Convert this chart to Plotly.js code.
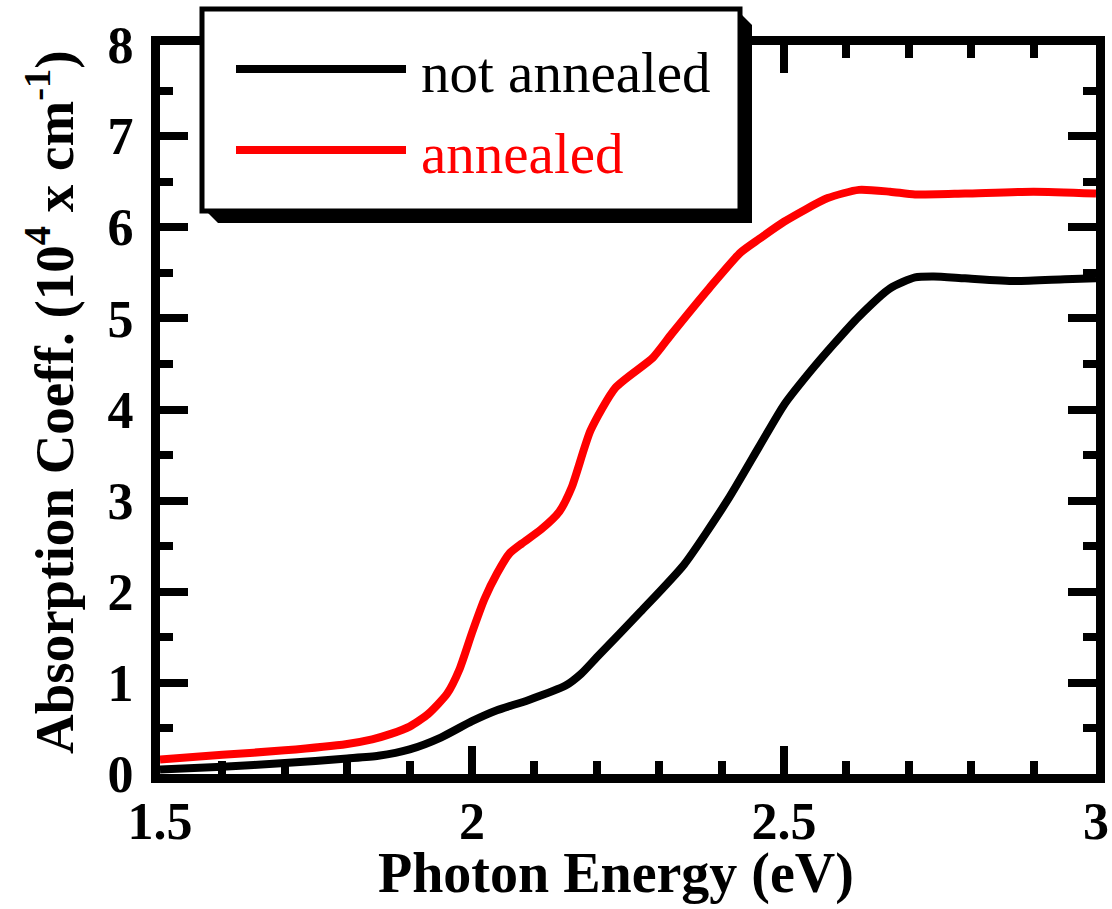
<!DOCTYPE html>
<html>
<head>
<meta charset="utf-8">
<script src="https://cdn.plot.ly/plotly-3.0.1.min.js"></script>
<style>html,body{margin:0;padding:0;background:#fff;}#chart{width:1112px;height:909px;}</style>
</head>
<body>
<div id="chart"></div>
<script>
// Photon energy (eV) and absorption coefficient (10^4 cm^-1)
const energyNotAnnealed = [1.50,1.60,1.70,1.80,1.85,1.90,1.95,2.00,2.04,2.09,2.15,2.175,2.20,2.27,2.34,2.41,2.46,2.50,2.54,2.58,2.62,2.67,2.71,2.74,2.79,2.87,2.95,3.00];
const alphaNotAnnealed  = [0.05,0.08,0.12,0.17,0.20,0.27,0.40,0.58,0.70,0.81,0.97,1.10,1.28,1.78,2.30,3.01,3.59,4.05,4.40,4.72,5.02,5.33,5.45,5.46,5.44,5.41,5.43,5.44];

const energyAnnealed = [1.50,1.60,1.70,1.80,1.84,1.87,1.90,1.93,1.96,1.98,2.00,2.02,2.04,2.06,2.08,2.11,2.14,2.16,2.19,2.23,2.29,2.32,2.38,2.43,2.46,2.50,2.57,2.62,2.67,2.71,2.79,2.90,3.00];
const alphaAnnealed  = [0.16,0.21,0.26,0.33,0.38,0.44,0.52,0.66,0.88,1.15,1.55,1.92,2.20,2.42,2.53,2.68,2.88,3.15,3.77,4.24,4.57,4.83,5.33,5.72,5.87,6.06,6.32,6.41,6.39,6.36,6.37,6.39,6.37];

const seriesNames = ["not annealed", "annealed"];
const seriesColors = ["#000000", "#ff0000"];
const xTitle = "Photon Energy (eV)";
const yTitle = "Absorption Coeff. (10<sup>4</sup> x cm<sup>-1</sup>)";

// layout geometry (pixels)
const W = 1112, H = 909;
const L = 160, R = 16, T = 45, B = 135;
const plotW = W - L - R, plotH = H - T - B;
const px = x => (x - L) / plotW;          // pixel -> paper x
const py = y => (H - B - y) / plotH;      // pixel -> paper y

const serif = "Liberation Serif, Times New Roman, serif";

const traces = [
  {x: energyNotAnnealed, y: alphaNotAnnealed, name: seriesNames[0], mode: "lines",
   line: {color: seriesColors[0], width: 8, shape: "spline", smoothing: 0.6}, showlegend: false},
  {x: energyAnnealed, y: alphaAnnealed, name: seriesNames[1], mode: "lines",
   line: {color: seriesColors[1], width: 8, shape: "spline", smoothing: 0.6}, showlegend: false}
];

// custom legend box with drop shadow
const bx0 = 202, bx1 = 740, by0 = 9, by1 = 211, sh = 12;
const shapes = [
  {type: "path", xref: "paper", yref: "paper", layer: "above",
   path: `M ${px(bx1)},${py(by0+4)} L ${px(bx1+sh)},${py(by0+4+sh)} L ${px(bx1+sh)},${py(by1+sh)} L ${px(bx0+4+sh)},${py(by1+sh)} L ${px(bx0+4)},${py(by1)} Z`,
   fillcolor: "#000", line: {width: 0}},
  {type: "rect", xref: "paper", yref: "paper", layer: "above",
   x0: px(bx0), x1: px(bx1), y0: py(by0), y1: py(by1),
   fillcolor: "#fff", line: {color: "#000", width: 5}},
  {type: "line", xref: "paper", yref: "paper", layer: "above",
   x0: px(236), x1: px(406), y0: py(69), y1: py(69), line: {color: seriesColors[0], width: 8}},
  {type: "line", xref: "paper", yref: "paper", layer: "above",
   x0: px(236), x1: px(406), y0: py(150), y1: py(150), line: {color: seriesColors[1], width: 8}}
];

const annotations = [
  {text: seriesNames[0], xref: "paper", yref: "paper", x: px(419), y: py(72), xanchor: "left", yanchor: "middle",
   showarrow: false, font: {family: serif, size: 57, color: seriesColors[0]}},
  {text: seriesNames[1], xref: "paper", yref: "paper", x: px(419), y: py(153), xanchor: "left", yanchor: "middle",
   showarrow: false, font: {family: serif, size: 57, color: seriesColors[1]}},
  {text: xTitle, xref: "paper", yref: "paper", x: px(616), y: py(873), xanchor: "center", yanchor: "middle",
   showarrow: false, font: {family: serif, size: 56, color: "#000", weight: "bold"}},
  {text: yTitle, xref: "paper", yref: "paper", x: px(50), y: py(402), xanchor: "center", yanchor: "middle",
   textangle: -90, showarrow: false, font: {family: serif, size: 55, color: "#000", weight: "bold"}}
];

const axisCommon = {
  showline: true, linecolor: "#000", linewidth: 9, mirror: "ticks",
  ticks: "inside", ticklen: 28, tickwidth: 8, tickcolor: "#000",
  showgrid: false, zeroline: false, fixedrange: true,
  tickfont: {family: serif, size: 52, color: "#000", weight: "bold"}
};

const layout = {
  width: W, height: H,
  margin: {l: L, r: R, t: T, b: B, pad: 0},
  paper_bgcolor: "#fff", plot_bgcolor: "#fff",
  showlegend: false,
  xaxis: Object.assign({}, axisCommon, {
    range: [1.5, 3], tickmode: "array", tickvals: [1.5, 2, 2.5, 3], ticktext: ["1.5", "2", "2.5", "3"],
    ticklabelstandoff: -6,
    minor: {dtick: 0.1, tick0: 1.5, ticks: "inside", ticklen: 13, tickwidth: 8, tickcolor: "#000", showgrid: false}
  }),
  yaxis: Object.assign({}, axisCommon, {
    range: [0, 8], tickmode: "linear", tick0: 0, dtick: 1,
    ticklabelstandoff: 7,
    minor: {dtick: 0.5, tick0: 0, ticks: "inside", ticklen: 13, tickwidth: 8, tickcolor: "#000", showgrid: false}
  }),
  shapes: shapes,
  annotations: annotations
};

Plotly.newPlot("chart", traces, layout, {staticPlot: true, displayModeBar: false});
</script>
</body>
</html>
